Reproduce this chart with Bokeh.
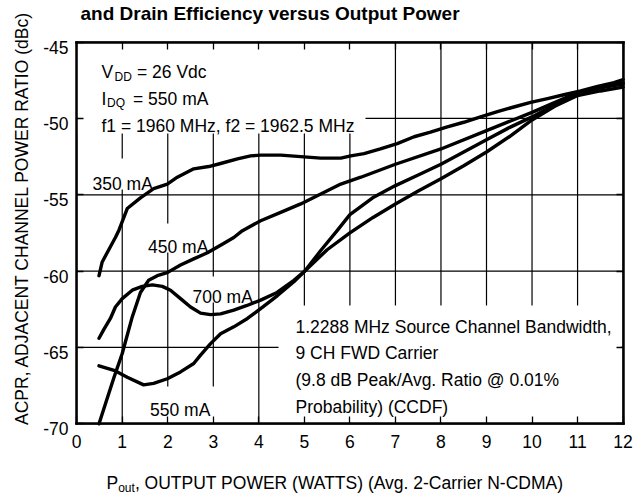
import math
from bokeh.plotting import figure
from bokeh.models import (Range1d, LinearAxis, FixedTicker, Label, LabelSet,
                          ColumnDataSource)
from bokeh.core.properties import value
from bokeh.embed import file_html
from bokeh.resources import INLINE

# ---------------- data ----------------
x_350 = [0.49, 0.56, 0.74, 0.85, 0.93, 1.11, 1.40, 1.69, 1.99, 2.21, 2.57, 2.90, 3.16, 3.53,
         3.82, 4.04, 4.48, 4.92, 5.36, 5.80, 6.02, 6.31, 6.67, 7.04, 7.41, 7.77, 8.14, 8.50,
         8.87, 9.24, 9.60, 9.97, 10.34, 10.70, 11.07, 11.44, 11.80, 12.0]
y_350 = [-60.3, -59.4, -58.4, -57.8, -57.3, -55.9, -55.2, -54.6, -54.3, -53.85, -53.3, -53.15,
         -52.95, -52.65, -52.45, -52.4, -52.4, -52.5, -52.6, -52.6, -52.45, -52.3, -52.0, -51.65,
         -51.2, -50.9, -50.55, -50.25, -49.9, -49.55, -49.25, -48.95, -48.7, -48.45, -48.2,
         -47.9, -47.65, -47.45]

x_450 = [0.49, 0.63, 0.82, 1.0, 1.22, 1.40, 1.58, 1.77, 1.99, 2.28, 2.57, 2.87, 3.16, 3.45,
         3.64, 4.04, 4.48, 4.92, 5.36, 5.80, 6.24, 7.0, 8.0, 9.0, 10.0, 11.0, 12.0]
y_450 = [-70.0, -68.7, -66.95, -65.4, -63.0, -61.4, -60.6, -60.3, -60.1, -59.6, -59.2, -58.8,
         -58.3, -57.8, -57.35, -56.7, -56.15, -55.6, -54.95, -54.3, -53.85, -53.0, -52.0,
         -50.8, -49.6, -48.3, -47.65]

x_550 = [0.49, 0.82, 1.11, 1.47, 1.69, 1.99, 2.28, 2.57, 2.72, 2.94, 3.16, 3.45, 3.75, 4.04,
         4.41, 4.77, 5.01, 5.36, 5.72, 6.0, 6.5, 7.0, 7.5, 8.0, 8.5, 9.0, 9.5, 10.0, 10.5,
         11.0, 11.5, 12.0]
y_550 = [-66.2, -66.5, -66.95, -67.45, -67.35, -67.05, -66.6, -66.05, -65.5, -64.75, -64.1,
         -63.65, -63.1, -62.45, -61.6, -60.7, -60.0, -58.65, -57.35, -56.3, -55.2, -54.4,
         -53.7, -53.0, -52.2, -51.4, -50.6, -49.9, -49.1, -48.35, -48.0, -47.75]

x_700 = [0.49, 0.6, 0.74, 0.85, 1.0, 1.22, 1.44, 1.66, 1.88, 2.06, 2.28, 2.5, 2.72, 2.94,
         3.16, 3.45, 3.74, 4.04, 4.4, 4.77, 5.01, 5.5, 6.0, 6.5, 7.0, 7.5, 8.0, 8.5, 9.0,
         9.5, 10.0, 10.5, 11.0, 11.5, 12.0]
y_700 = [-64.4, -63.8, -63.1, -62.35, -61.8, -61.25, -61.0, -60.9, -61.0, -61.25, -61.8,
         -62.35, -62.75, -62.85, -62.8, -62.55, -62.25, -61.9, -61.4, -60.6, -60.0, -58.6,
         -57.5, -56.5, -55.6, -54.75, -53.95, -53.1, -52.2, -51.2, -50.1, -49.2, -48.5,
         -48.2, -47.95]

x_ticks = list(range(0, 13))
y_ticks = [-70, -65, -60, -55, -50, -45]
y_tick_labels = ["-70", "-65", "-60", "-55", "-50", "-45"]

title_text = "and Drain Efficiency versus Output Power"
y_label = "ACPR, ADJACENT CHANNEL POWER RATIO (dBc)"
x_label_main = "P"
x_label_sub = "out"
x_label_rest = ", OUTPUT POWER (WATTS) (Avg. 2-Carrier N-CDMA)"
note_lines = ["1.2288 MHz Source Channel Bandwidth,", "9 CH FWD Carrier",
              "(9.8 dB Peak/Avg. Ratio @ 0.01%", "Probability) (CCDF)"]

# ---------------- layout ----------------
W, H = 633, 497
XMIN, XMAX, YMIN, YMAX = 0, 12, -70, -45
# pixel position of the plot box on the canvas
PL, PR, PT, PB = 76.2, 622.6, 41.6, 423.3
SX = (PR - PL) / (XMAX - XMIN)
SY = (PB - PT) / (YMAX - YMIN)
x_start, x_end = XMIN - PL / SX, XMAX + (W - PR) / SX
y_start, y_end = YMIN - (H - PB) / SY, YMAX + PT / SY

FONT = "Liberation Sans"
FS = "17.5px"
SUB = "12px"


def dx(px):
    return x_start + px / SX


def dy(py):
    return y_end - py / SY


p = figure(width=W, height=H, output_backend="svg", toolbar_location=None,
           x_range=Range1d(x_start, x_end), y_range=Range1d(y_start, y_end),
           min_border=0, x_axis_location=None, y_axis_location=None)
p.outline_line_color = None
p.background_fill_color = "white"
p.border_fill_color = "white"
p.grid.visible = False

# grid lines (lowest level)
p.segment(x0=x_ticks, x1=x_ticks, y0=[YMIN] * len(x_ticks), y1=[YMAX] * len(x_ticks),
          line_color="black", line_width=1.2, level="image")
p.segment(x0=[XMIN] * len(y_ticks), x1=[XMAX] * len(y_ticks), y0=y_ticks, y1=y_ticks,
          line_color="black", line_width=1.2, level="image")

# white boxes that hide the grid behind texts (pixel extents on the canvas)
boxes = [
    (77, 365, 42, 133),     # conditions block
    (278, 620, 305, 422),   # signal note block
    (88, 156, 158, 189),    # 350 mA
    (144, 210, 223, 252),   # 450 mA
    (188, 256, 276, 302),   # 700 mA
    (145, 214, 386, 422),   # 550 mA
]
p.quad(left=[dx(b[0]) for b in boxes], right=[dx(b[1]) for b in boxes],
       top=[dy(b[2]) for b in boxes], bottom=[dy(b[3]) for b in boxes],
       fill_color="white", line_color=None, level="underlay")

# curves
for xs, ys in ((x_350, y_350), (x_450, y_450), (x_550, y_550), (x_700, y_700)):
    p.line(xs, ys, line_color="black", line_width=3.4, line_join="round", line_cap="round")


# axes drawn on the plot box edges (ticks inside)
def axis(ticks, loc, bounds, labels=False):
    ax = LinearAxis(ticker=FixedTicker(ticks=ticks), fixed_location=loc, bounds=bounds,
                    major_tick_in=7, major_tick_out=0, minor_tick_line_color=None,
                    major_tick_line_width=1.3, axis_line_width=2.5,
                    axis_line_color="black", axis_line_cap="square")
    if labels:
        ax.major_label_text_font = FONT
        ax.major_label_text_font_size = FS
        ax.major_label_text_color = "black"
        ax.major_label_standoff = 11
    else:
        ax.major_label_text_color = None
    return ax


p.add_layout(axis(x_ticks, YMIN, (XMIN, XMAX), labels=True), "below")
p.add_layout(axis(x_ticks, YMAX, (XMIN, XMAX)), "above")
p.add_layout(axis(y_ticks, XMIN, (YMIN, YMAX)), "left")
p.add_layout(axis(y_ticks, XMAX, (YMIN, YMAX)), "right")

# y tick labels (sit a little below their ticks, as in the original)
ysrc = ColumnDataSource(dict(x=[dx(68)] * len(y_ticks),
                             y=[v - 5 / SY for v in y_ticks],
                             t=y_tick_labels))
p.add_layout(LabelSet(x="x", y="y", text="t", source=ysrc, text_align="right",
                      text_baseline="middle", text_font=value(FONT),
                      text_font_size=value(FS), text_color="black"))


def lab(px, py, txt, size=FS, align="left", bold=False, angle=0.0, baseline="alphabetic"):
    p.add_layout(Label(x=dx(px), y=dy(py), text=txt, text_font=FONT, text_font_size=size,
                       text_align=align, text_baseline=baseline, angle=angle,
                       text_color="black", text_font_style="bold" if bold else "normal"))


# title (cut at the top, as in the original)
lab(80, 13, title_text, size="19px", bold=True)

# conditions block
lab(101, 71.7, "V")
lab(114, 76, "DD", size=SUB)
lab(136.5, 71.7, "= 26 Vdc")
lab(101, 98.3, "I")
lab(106.5, 102.6, "DQ", size=SUB)
lab(132.5, 98.3, "= 550 mA")
lab(101, 125, "f1 = 1960 MHz, f2 = 1962.5 MHz")

# curve labels
lab(92, 183.3, "350 mA")
lab(147.5, 246, "450 mA")
lab(192, 296.7, "700 mA")
lab(149.5, 409.3, "550 mA")

# note block
for i, line in enumerate(note_lines):
    lab(295, 326 + i * 26.7, line)

# axis titles
lab(21.5, 217.5, y_label, align="center", angle=math.pi / 2, baseline="middle")
lab(106, 482, x_label_main)
lab(117.7, 487, x_label_sub, size=SUB)
lab(134.4, 482, x_label_rest)

open("out.html", "w").write(file_html(p, INLINE))
